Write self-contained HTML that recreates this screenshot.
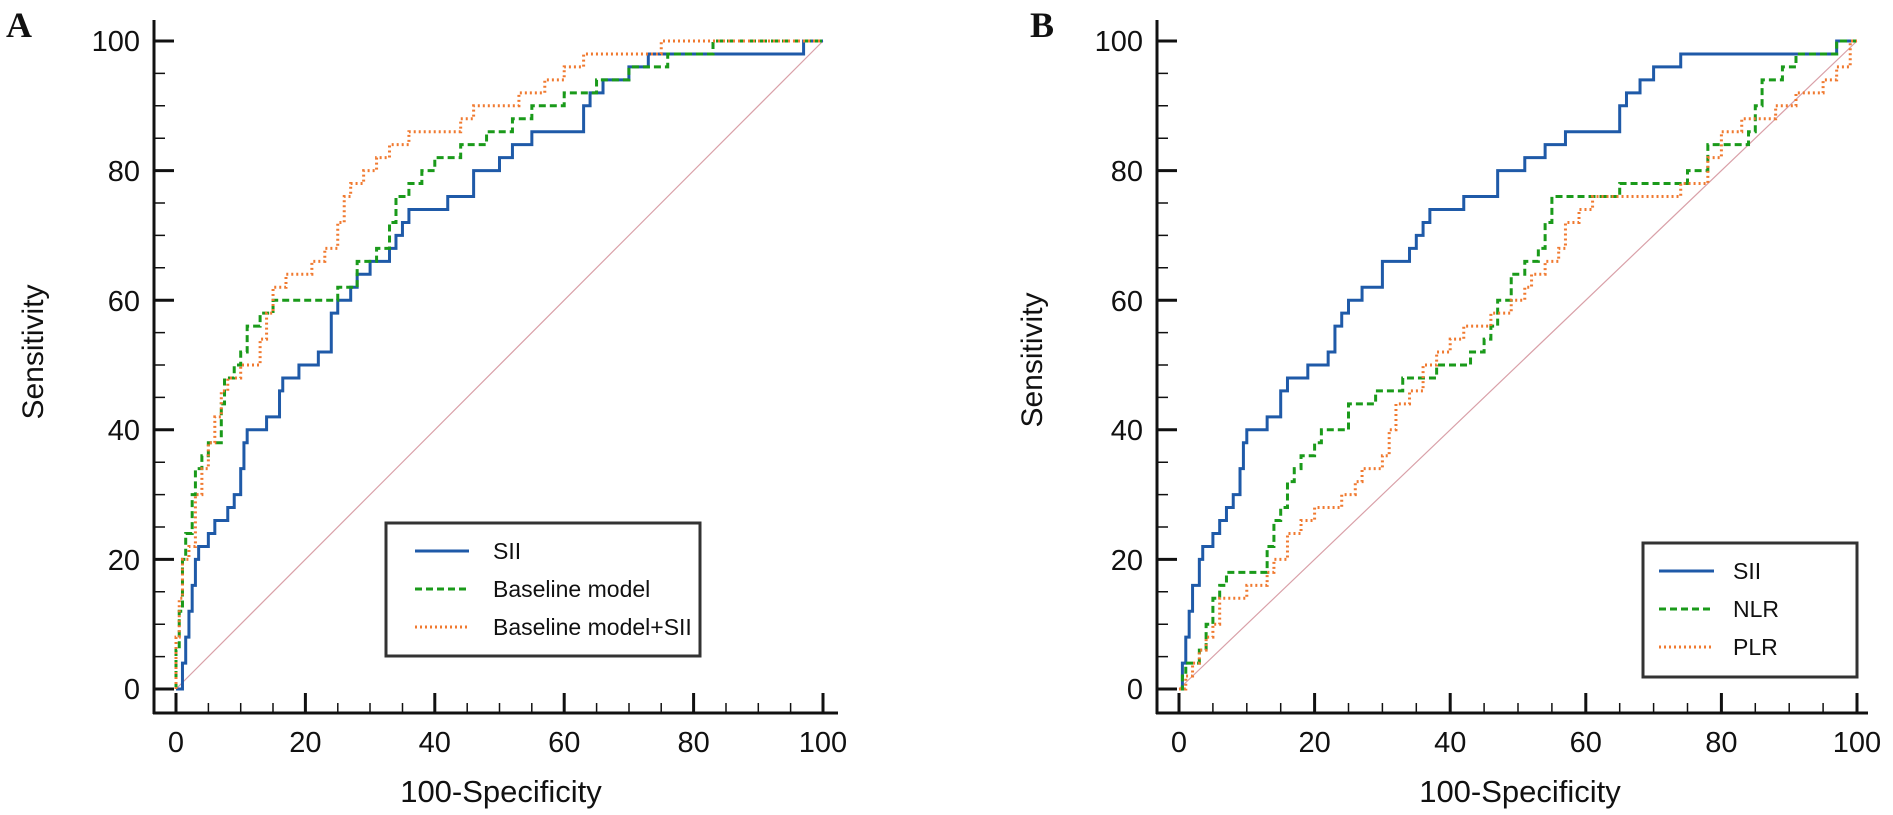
<!DOCTYPE html>
<html><head><meta charset="utf-8"><style>
body{margin:0;background:#fff}
svg text{font-family:"Liberation Sans",Arial,sans-serif;fill:#111}
</style></head><body>
<svg width="1893" height="810" viewBox="0 0 1893 810" xmlns="http://www.w3.org/2000/svg">
<text x="6" y="37" style="font-family:'Liberation Serif',serif;font-weight:bold;font-size:36px">A</text>
<text x="1030" y="37" style="font-family:'Liberation Serif',serif;font-weight:bold;font-size:36px">B</text>

<g stroke="#111" stroke-width="3" fill="none">
<line x1="154" y1="20" x2="154" y2="714"/>
<line x1="153" y1="713" x2="838" y2="713"/>
<line x1="1157" y1="20" x2="1157" y2="714"/>
<line x1="1156" y1="713" x2="1868" y2="713"/>
</g>
<g stroke="#111" fill="none">
<path stroke-width="3" d="M154 689h20M154 559.4h20M154 429.8h20M154 300.2h20M154 170.6h20M154 41h20"/>
<path stroke-width="1.5" d="M154 656.6h11M154 624.2h11M154 591.8h11M154 527h11M154 494.6h11M154 462.2h11M154 397.4h11M154 365h11M154 332.6h11M154 267.8h11M154 235.4h11M154 203h11M154 138.2h11M154 105.8h11M154 73.4h11"/>
<path stroke-width="3" d="M176 713v-20M305.4 713v-20M434.8 713v-20M564.2 713v-20M693.6 713v-20M823 713v-20"/>
<path stroke-width="1.5" d="M208.4 713v-10M240.7 713v-10M273 713v-10M337.8 713v-10M370 713v-10M402.5 713v-10M467.2 713v-10M499.5 713v-10M531.8 713v-10M596.6 713v-10M629 713v-10M661.2 713v-10M726 713v-10M758.3 713v-10M790.6 713v-10"/>
<path stroke-width="3" d="M1157 689h20M1157 559.4h20M1157 429.8h20M1157 300.2h20M1157 170.6h20M1157 41h20"/>
<path stroke-width="1.5" d="M1157 656.6h11M1157 624.2h11M1157 591.8h11M1157 527h11M1157 494.6h11M1157 462.2h11M1157 397.4h11M1157 365h11M1157 332.6h11M1157 267.8h11M1157 235.4h11M1157 203h11M1157 138.2h11M1157 105.8h11M1157 73.4h11"/>
<path stroke-width="3" d="M1179 713v-20M1314.6 713v-20M1450.2 713v-20M1585.8 713v-20M1721.4 713v-20M1857 713v-20"/>
<path stroke-width="1.5" d="M1212.9 713v-10M1246.8 713v-10M1280.7 713v-10M1348.5 713v-10M1382.4 713v-10M1416.3 713v-10M1484.1 713v-10M1518 713v-10M1551.9 713v-10M1619.7 713v-10M1653.6 713v-10M1687.5 713v-10M1755.3 713v-10M1789.2 713v-10M1823.1 713v-10"/>
</g>

<g style="font-size:29px" text-anchor="end">
<text x="140" y="699">0</text><text x="140" y="570">20</text><text x="140" y="440">40</text><text x="140" y="311">60</text><text x="140" y="181">80</text><text x="140" y="51">100</text>
<text x="1143" y="699">0</text><text x="1143" y="570">20</text><text x="1143" y="440">40</text><text x="1143" y="311">60</text><text x="1143" y="181">80</text><text x="1143" y="51">100</text>
</g>
<g style="font-size:29px" text-anchor="middle">
<text x="176" y="752">0</text><text x="305.4" y="752">20</text><text x="434.8" y="752">40</text><text x="564.2" y="752">60</text><text x="693.6" y="752">80</text><text x="823" y="752">100</text>
<text x="1179" y="752">0</text><text x="1314.6" y="752">20</text><text x="1450.2" y="752">40</text><text x="1585.8" y="752">60</text><text x="1721.4" y="752">80</text><text x="1857" y="752">100</text>
<text x="501" y="802" style="font-size:31px">100-Specificity</text>
<text x="1520" y="802" style="font-size:31px">100-Specificity</text>
<text transform="translate(43,352) rotate(-90)" style="font-size:30px">Sensitivity</text>
<text transform="translate(1042,360) rotate(-90)" style="font-size:30px">Sensitivity</text>
</g>

<g transform="translate(176,689) scale(6.47,-6.48)" fill="none">
<line x1="0" y1="0" x2="100" y2="100" stroke="#d9a0a8" stroke-width="1.2" vector-effect="non-scaling-stroke"/>
<polyline vector-effect="non-scaling-stroke" stroke="#1f5aa8" stroke-width="3" points="0,0 1,0 1,4 1.5,4 1.5,8 2,8 2,12 2.5,12 2.5,16 3,16 3,20 3.5,20 3.5,22 5,22 5,24 6,24 6,26 8,26 8,28 9,28 9,30 10,30 10,34 10.5,34 10.5,38 11,38 11,40 14,40 14,42 16,42 16,46 16.5,46 16.5,48 19,48 19,50 22,50 22,52 24,52 24,58 25,58 25,60 27,60 27,62 28,62 28,64 30,64 30,66 33,66 33,68 34,68 34,70 35,70 35,72 36,72 36,74 42,74 42,76 46,76 46,80 50,80 50,82 52,82 52,84 55,84 55,86 63,86 63,90 64,90 64,92 66,92 66,94 70,94 70,96 73,96 73,98 97,98 97,100 100,100"/>
<polyline vector-effect="non-scaling-stroke" stroke="#1a9a1a" stroke-width="3" stroke-dasharray="7,4" points="0,0 0,6 0.5,6 0.5,12 1,12 1,20 1.5,20 1.5,24 2.5,24 2.5,30 3,30 3,34 4,34 4,36 5,36 5,38 7,38 7,44 7.5,44 7.5,48 9,48 9,50 10,50 10,52 11,52 11,56 13,56 13,58 15,58 15,60 25,60 25,62 28,62 28,66 31,66 31,68 33,68 33,72 34,72 34,76 36,76 36,78 38,78 38,80 40,80 40,82 44,82 44,84 48,84 48,86 52,86 52,88 55,88 55,90 60,90 60,92 65,92 65,94 70,94 70,96 76,96 76,98 83,98 83,100 100,100"/>
<polyline vector-effect="non-scaling-stroke" stroke="#f07a30" stroke-width="3" stroke-dasharray="2,3" points="0,0 0,8 0.5,8 0.5,14 1,14 1,20 2,20 2,22 3,22 3,30 4,30 4,34 5,34 5,38 6,38 6,42 7,42 7,46 8,46 8,48 10,48 10,50 13,50 13,54 14,54 14,58 15,58 15,62 17,62 17,64 21,64 21,66 23,66 23,68 25,68 25,72 26,72 26,76 27,76 27,78 29,78 29,80 31,80 31,82 33,82 33,84 36,84 36,86 44,86 44,88 46,88 46,90 53,90 53,92 57,92 57,94 60,94 60,96 63,96 63,98 75,98 75,100 100,100"/>
</g>

<g transform="translate(1179,689) scale(6.78,-6.48)" fill="none">
<line x1="0" y1="0" x2="100" y2="100" stroke="#d9a0a8" stroke-width="1.2" vector-effect="non-scaling-stroke"/>
<polyline vector-effect="non-scaling-stroke" stroke="#1f5aa8" stroke-width="3" points="0,0 0.5,0 0.5,4 1,4 1,8 1.5,8 1.5,12 2,12 2,16 3,16 3,20 3.5,20 3.5,22 5,22 5,24 6,24 6,26 7,26 7,28 8,28 8,30 9,30 9,34 9.5,34 9.5,38 10,38 10,40 13,40 13,42 15,42 15,46 16,46 16,48 19,48 19,50 22,50 22,52 23,52 23,56 24,56 24,58 25,58 25,60 27,60 27,62 30,62 30,66 34,66 34,68 35,68 35,70 36,70 36,72 37,72 37,74 42,74 42,76 47,76 47,80 51,80 51,82 54,82 54,84 57,84 57,86 65,86 65,90 66,90 66,92 68,92 68,94 70,94 70,96 74,96 74,98 97,98 97,100 100,100"/>
<polyline vector-effect="non-scaling-stroke" stroke="#1a9a1a" stroke-width="3" stroke-dasharray="7,4" points="0,0 0.5,0 0.5,2 1,2 1,4 3,4 3,6 4,6 4,10 5,10 5,14 6,14 6,16 7,16 7,18 13,18 13,22 14,22 14,26 15,26 15,28 16,28 16,32 17,32 17,34 18,34 18,36 20,36 20,38 21,38 21,40 25,40 25,44 29,44 29,46 33,46 33,48 38,48 38,50 43,50 43,52 45,52 45,54 46,54 46,56 47,56 47,60 49,60 49,64 51,64 51,66 53,66 53,68 54,68 54,72 55,72 55,76 65,76 65,78 75,78 75,80 78,80 78,84 84,84 84,86 85,86 85,90 86,90 86,94 89,94 89,96 91,96 91,98 97,98 97,100 100,100"/>
<polyline vector-effect="non-scaling-stroke" stroke="#f07a30" stroke-width="3" stroke-dasharray="2,3" points="0,0 1,0 1,2 2,2 2,4 3,4 3,6 4,6 4,8 5,8 5,10 6,10 6,14 10,14 10,16 13,16 13,18 14,18 14,20 16,20 16,24 18,24 18,26 20,26 20,28 24,28 24,30 26,30 26,32 27,32 27,34 30,34 30,36 31,36 31,40 32,40 32,44 34,44 34,46 36,46 36,50 38,50 38,52 40,52 40,54 42,54 42,56 46,56 46,58 49,58 49,60 51,60 51,62 52,62 52,64 54,64 54,66 56,66 56,68 57,68 57,72 59,72 59,74 61,74 61,76 74,76 74,78 78,78 78,82 80,82 80,86 83,86 83,88 88,88 88,90 91,90 91,92 95,92 95,94 97,94 97,96 99,96 99,100 100,100"/>
</g>

<rect x="386" y="523" width="314" height="133" fill="#fff" stroke="#333" stroke-width="3"/>
<line x1="415" y1="551" x2="469" y2="551" stroke="#1f5aa8" stroke-width="3"/>
<line x1="415" y1="589" x2="469" y2="589" stroke="#1a9a1a" stroke-width="3" stroke-dasharray="7,4"/>
<line x1="415" y1="627" x2="469" y2="627" stroke="#f07a30" stroke-width="3" stroke-dasharray="2,3"/>
<g style="font-size:23px">
<text x="493" y="559">SII</text>
<text x="493" y="597">Baseline model</text>
<text x="493" y="635">Baseline model+SII</text>
</g>

<rect x="1643" y="543" width="214" height="134" fill="#fff" stroke="#333" stroke-width="3"/>
<line x1="1659" y1="571" x2="1714" y2="571" stroke="#1f5aa8" stroke-width="3"/>
<line x1="1659" y1="609" x2="1714" y2="609" stroke="#1a9a1a" stroke-width="3" stroke-dasharray="7,4"/>
<line x1="1659" y1="647" x2="1714" y2="647" stroke="#f07a30" stroke-width="3" stroke-dasharray="2,3"/>
<g style="font-size:23px">
<text x="1733" y="579">SII</text>
<text x="1733" y="617">NLR</text>
<text x="1733" y="655">PLR</text>
</g>
</svg>
</body></html>
